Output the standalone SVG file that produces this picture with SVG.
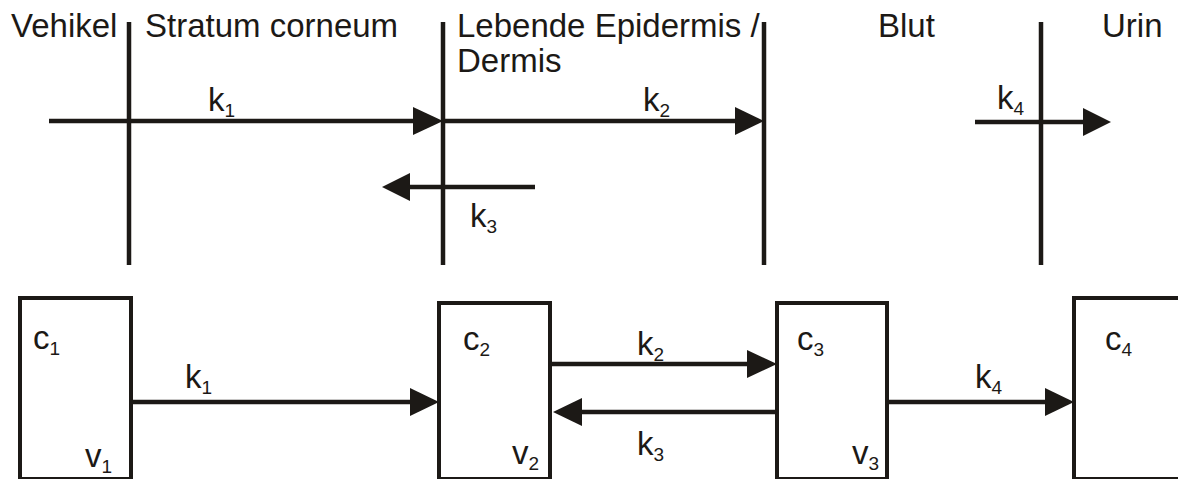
<svg xmlns="http://www.w3.org/2000/svg" width="1178" height="479" viewBox="0 0 1178 479">
<style>
text{font-family:"Liberation Sans",Arial,sans-serif;font-size:33px;fill:#1c1916}
.sub{font-size:19px}
.ln{stroke:#1c1916;stroke-width:4.5;fill:none}
.box{stroke:#1c1916;stroke-width:4;fill:#fff}
.head{fill:#1c1916}
</style>
<rect width="1178" height="479" fill="#fff"/>
<g id="top-barriers">
<line class="ln" x1="129" y1="22" x2="129" y2="265"/>
<line class="ln" x1="443" y1="22" x2="443" y2="265"/>
<line class="ln" x1="764" y1="22" x2="764" y2="265"/>
<line class="ln" x1="1041" y1="22" x2="1041" y2="265"/>
</g>
<g id="top-labels">
<text x="11" y="37">Vehikel</text>
<text x="145" y="37">Stratum corneum</text>
<text x="457" y="37">Lebende Epidermis /</text>
<text x="457" y="72">Dermis</text>
<text x="878" y="37">Blut</text>
<text x="1102" y="37">Urin</text>
</g>
<g id="node-c1">
<rect class="box" x="20" y="298" width="111" height="181"/>
<text x="33" y="349">c<tspan class="sub" dy="6">1</tspan></text>
<text x="85" y="467">v<tspan class="sub" dy="6">1</tspan></text>
</g>
<g id="node-c2">
<rect class="box" x="439" y="303" width="111" height="176"/>
<text x="463" y="350">c<tspan class="sub" dy="6">2</tspan></text>
<text x="512" y="464">v<tspan class="sub" dy="6">2</tspan></text>
</g>
<g id="node-c3">
<rect class="box" x="777" y="303" width="110" height="176"/>
<text x="797" y="350">c<tspan class="sub" dy="6">3</tspan></text>
<text x="852" y="464">v<tspan class="sub" dy="6">3</tspan></text>
</g>
<g id="node-c4">
<rect class="box" x="1074" y="298" width="120" height="181"/>
<text x="1105" y="350">c<tspan class="sub" dy="6">4</tspan></text>
</g>
<g id="connectors">
<line class="ln" x1="49" y1="121" x2="415" y2="121"/>
<polygon class="head" points="443,121 413,107 413,135"/>
<line class="ln" x1="443" y1="121" x2="737" y2="121"/>
<polygon class="head" points="764,121 735,107 735,135"/>
<line class="ln" x1="535" y1="187" x2="408" y2="187"/>
<polygon class="head" points="382,187 410,173 410,201"/>
<line class="ln" x1="975" y1="122" x2="1085" y2="122"/>
<polygon class="head" points="1111,122 1083,108 1083,136"/>
<line class="ln" x1="132" y1="402" x2="412" y2="402"/>
<polygon class="head" points="439,402 410,388 410,416"/>
<line class="ln" x1="550" y1="364" x2="749" y2="364"/>
<polygon class="head" points="777,364 747,350 747,378"/>
<line class="ln" x1="777" y1="412" x2="580" y2="412"/>
<polygon class="head" points="553,412 582,398 582,426"/>
<line class="ln" x1="887" y1="402" x2="1047" y2="402"/>
<polygon class="head" points="1074,402 1045,388 1045,416"/>
</g>
<g id="connector-labels">
<text x="208" y="111">k<tspan class="sub" dy="6">1</tspan></text>
<text x="643" y="111">k<tspan class="sub" dy="6">2</tspan></text>
<text x="470" y="227">k<tspan class="sub" dy="6">3</tspan></text>
<text x="997" y="109">k<tspan class="sub" dy="6">4</tspan></text>
<text x="185" y="388">k<tspan class="sub" dy="6">1</tspan></text>
<text x="637" y="355">k<tspan class="sub" dy="6">2</tspan></text>
<text x="637" y="455">k<tspan class="sub" dy="6">3</tspan></text>
<text x="975" y="388">k<tspan class="sub" dy="6">4</tspan></text>
</g>
</svg>
